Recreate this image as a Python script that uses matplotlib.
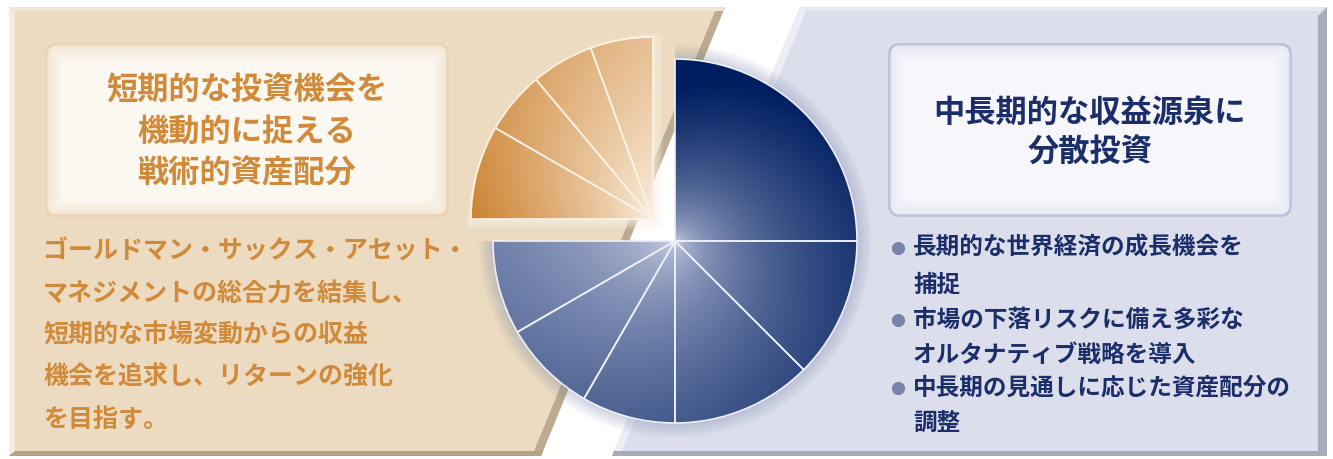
import numpy as np
import matplotlib.pyplot as plt
from matplotlib.patches import Polygon, Wedge, FancyBboxPatch

plt.rcParams['font.family'] = ['Noto Sans CJK JP', 'DejaVu Sans']

W, H = 1333, 459

# slice sizes in degrees
tactical_deg = [20, 20, 20, 30]              # orange, counterclockwise from 12 o'clock
strategic_deg = [90, 45, 45, 30, 30, 30]     # navy, clockwise from 12 o'clock

left_title = ["短期的な投資機会を", "機動的に捉える", "戦術的資産配分"]
left_body = ["ゴールドマン・サックス・アセット・",
             "マネジメントの総合力を結集し、",
             "短期的な市場変動からの収益",
             "機会を追求し、リターンの強化",
             "を目指す。"]
right_title = ["中長期的な収益源泉に", "分散投資"]
right_body = ["長期的な世界経済の成長機会を", "捕捉",
              "市場の下落リスクに備え多彩な", "オルタナティブ戦略を導入",
              "中長期の見通しに応じた資産配分の", "調整"]
right_bullet = [True, False, True, False, True, False]

ORANGE = '#d08a3a'
NAVY = '#1b2e6a'


def fy(y):
    # image pixel row -> data y
    return H - y


def shade(cx, cy, R, clockwise, span, light, dark, a0, a1, gamma, n=500):
    xs = np.linspace(cx - R, cx + R, n)
    ys = np.linspace(cy - R, cy + R, n)
    X, Y = np.meshgrid(xs, ys)
    r = np.clip(np.hypot(X - cx, Y - cy) / R, 0, 1)
    ang = np.degrees(np.arctan2(Y - cy, X - cx))
    if clockwise:
        s = ((90 - ang) % 360) / span
    else:
        s = ((ang - 90) % 360) / span
    s = np.clip(s, 0, 1)
    d = np.clip((a0 + (a1 - a0) * s) * r ** gamma, 0, 1)
    light = np.array(light)[None, None, :]
    dark = np.array(dark)[None, None, :]
    return light * (1 - d[..., None]) + dark * d[..., None]


fig = plt.figure(figsize=(W / 100, H / 100), dpi=100)
ax = fig.add_axes([0, 0, 1, 1])

# ---- background panels
ax.add_patch(Polygon([(9, fy(7)), (725, fy(7)), (541, fy(456)), (9, fy(456))],
                     fc='#ecdbc0', ec='none', zorder=0))
ax.add_patch(Polygon([(716, fy(9)), (725, fy(7)), (541, fy(456)), (532, fy(456))],
                     fc='#bcab90', ec='none', zorder=1))
ax.add_patch(Polygon([(9, fy(7)), (15, fy(12)), (15, fy(451)), (9, fy(456))],
                     fc='#f6ecdc', ec='none', zorder=1))
ax.add_patch(Polygon([(9, fy(7)), (725, fy(7)), (723, fy(11)), (15, fy(11))],
                     fc='#f2e5d1', ec='none', zorder=1))
ax.add_patch(Polygon([(9, fy(456)), (541, fy(456)), (543, fy(451)), (15, fy(451))],
                     fc='#b3a288', ec='none', zorder=1))

ax.add_patch(Polygon([(800, fy(7)), (1327, fy(7)), (1327, fy(456)), (612, fy(456))],
                     fc='#dcdfeb', ec='none', zorder=0))
ax.add_patch(Polygon([(800, fy(7)), (808, fy(7)), (620, fy(456)), (612, fy(456))],
                     fc='#eceef5', ec='none', zorder=1))
ax.add_patch(Polygon([(800, fy(7)), (1327, fy(7)), (1318, fy(11)), (806, fy(11))],
                     fc='#e7e9f2', ec='none', zorder=1))
ax.add_patch(Polygon([(1318, fy(16)), (1327, fy(7)), (1327, fy(456)), (1318, fy(451))],
                     fc='#a9abb8', ec='none', zorder=1))
ax.add_patch(Polygon([(612, fy(456)), (1327, fy(456)), (1318, fy(451)), (614, fy(451))],
                     fc='#a7aab8', ec='none', zorder=1))

# ---- pies
R = 182
bcx, bcy = 675, fy(241)
ocx, ocy = 653, fy(219)

# soft halos
for k in range(1, 16):
    ax.add_patch(Wedge((bcx, bcy), R + k, -180, 90, fc='#7b84b8', ec='none',
                       alpha=0.022, zorder=2))
    ax.add_patch(Wedge((ocx + 0.7 * k, ocy - 0.7 * k), R + k, 90, 180, fc='#fdf6ec',
                       ec='none', alpha=0.07, zorder=2))

blue, _ = ax.pie(np.array(strategic_deg) / 360, normalize=False, startangle=90,
                 counterclock=False, radius=R, center=(bcx, bcy),
                 wedgeprops=dict(fc='none', ec='#eef0f7', lw=1.2, zorder=5))
orange, _ = ax.pie(np.array(tactical_deg) / 360, normalize=False, startangle=90,
                   counterclock=True, radius=R, center=(ocx, ocy),
                   wedgeprops=dict(fc='none', ec='#fcf3e7', lw=1.2, zorder=5))

img_b = shade(bcx, bcy, R, True, sum(strategic_deg),
              (0.88, 0.89, 0.95), (0.0, 0.12, 0.38), 1.08, 0.5, 0.42)
img_o = shade(ocx, ocy, R, False, sum(tactical_deg),
              (0.99, 0.95, 0.90), (0.80, 0.51, 0.19), 0.45, 1.0, 0.75)
for w in blue:
    im = ax.imshow(img_b, extent=(bcx - R, bcx + R, bcy - R, bcy + R),
                   origin='lower', zorder=4, interpolation='bilinear')
    im.set_clip_path(w)
for w in orange:
    im = ax.imshow(img_o, extent=(ocx - R, ocx + R, ocy - R, ocy + R),
                   origin='lower', zorder=4, interpolation='bilinear')
    im.set_clip_path(w)

# ---- title boxes
for x0, edge, face, glow in [(47, '#ebd2ae', '#fbf7f1', '#f5e8d6'),
                             (890, '#b9bed9', '#f7f7fb', '#e9ebf4')]:
    ax.add_patch(FancyBboxPatch((x0, fy(215)), 400, 170,
                                boxstyle='round,pad=0,rounding_size=9',
                                fc=face, ec=edge, lw=2.5, zorder=6))
    for i, a in enumerate([0.8, 0.5, 0.3]):
        ins = 3 + 4 * i
        ax.add_patch(FancyBboxPatch((x0 + ins, fy(215) + ins), 400 - 2 * ins, 170 - 2 * ins,
                                    boxstyle='round,pad=0,rounding_size=7',
                                    fc='none', ec=glow, lw=4, alpha=a, zorder=6))

for i, line in enumerate(left_title):
    ax.text(247, fy(90 + 41.5 * i), line, ha='center', va='center',
            fontsize=22.5, fontweight='bold', color=ORANGE, zorder=7)
for i, line in enumerate(right_title):
    ax.text(1090, fy(113 + 40 * i), line, ha='center', va='center',
            fontsize=22.5, fontweight='bold', color=NAVY, zorder=7)

# ---- body text
for i, line in enumerate(left_body):
    ax.text(43, fy(252 + 42 * i), line, ha='left', va='center',
            fontsize=18, fontweight='bold', color=ORANGE, zorder=7)

right_y = [248, 285, 320, 355, 388, 423]
for line, b, y in zip(right_body, right_bullet, right_y):
    ax.text(913, fy(y), line, ha='left', va='center',
            fontsize=17, fontweight='bold', color=NAVY, zorder=7)
    if b:
        ax.plot([898], [fy(y)], 'o', ms=9.5, color='#7a82aa', mec='none', zorder=7)

ax.set_xlim(0, W)
ax.set_ylim(0, H)
ax.set_aspect('auto')
ax.axis('off')

fig.savefig('out.png', dpi=100, facecolor='white')
